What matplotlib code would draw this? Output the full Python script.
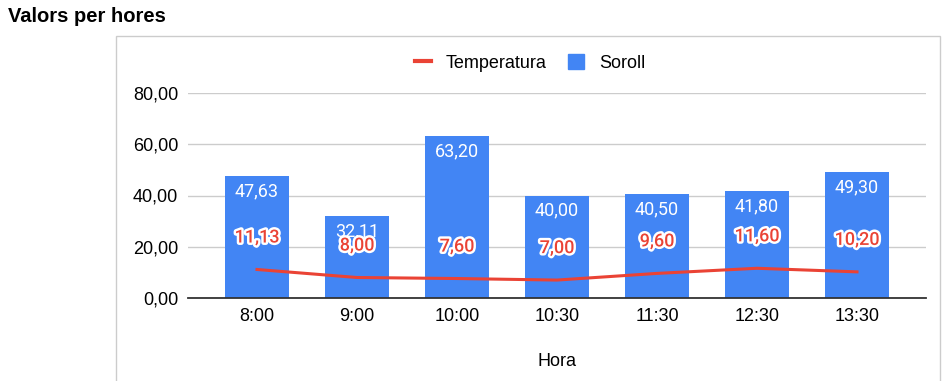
import matplotlib.pyplot as plt
import matplotlib.patheffects as pe
from matplotlib.patches import Rectangle
from matplotlib.lines import Line2D
import numpy as np

# --- Data ---
hores = ["8:00", "9:00", "10:00", "10:30", "11:30", "12:30", "13:30"]
soroll = [47.63, 32.11, 63.20, 40.00, 40.50, 41.80, 49.30]
temperatura = [11.13, 8.00, 7.60, 7.00, 9.60, 11.60, 10.20]
yticks = [0, 20, 40, 60, 80]

blue = "#4285f4"
red = "#ea4335"

def fmt(v):
    return f"{v:.2f}".replace(".", ",")

plt.rcParams["font.family"] = ["Liberation Sans", "DejaVu Sans"]

fig = plt.figure(figsize=(9.45, 3.81), dpi=100)
ax = fig.add_axes([188 / 945, 83 / 381, 738 / 945, 205 / 381])

x = np.arange(len(hores))
ax.bar(x, soroll, width=0.64, color=blue, zorder=2)
ax.plot(x, temperatura, color=red, lw=2.2, zorder=3)

# labels on bars
for xi, v in zip(x, soroll):
    ax.annotate(fmt(v), (xi, v), xytext=(0, -11), textcoords="offset points",
                ha="center", va="center", color="white", fontsize=13,
                family="Roboto", zorder=4)
for xi, v in zip(x, temperatura):
    ax.annotate(fmt(v), (xi, v), xytext=(0, 23), textcoords="offset points",
                ha="center", va="center", color=red, fontsize=13,
                family="Roboto", fontweight="medium", zorder=5,
                path_effects=[pe.withStroke(linewidth=3.5, foreground="white")])

ax.set_xlim(-0.69, len(hores) - 1 + 0.69)
ax.set_ylim(0, 80)
ax.set_xticks(x)
ax.set_xticklabels(hores, fontsize=13)
ax.set_yticks(yticks)
ax.set_yticklabels([fmt(t) for t in yticks], fontsize=13)
ax.tick_params(length=0, pad=7)
ax.tick_params(axis="x", pad=7)
ax.grid(axis="y", color="#cccccc", lw=1, zorder=0)
for s in ["top", "right", "left"]:
    ax.spines[s].set_visible(False)
ax.spines["bottom"].set_color("#333333")
ax.spines["bottom"].set_linewidth(1.3)
ax.spines["bottom"].set_zorder(6)
ax.set_xlabel("Hora", fontsize=13, labelpad=20)

# chart frame
fig.add_artist(Rectangle((116 / 945, -0.1), 824 / 945, 1.1 - 36 / 381,
                         transform=fig.transFigure, fill=False,
                         edgecolor="#cccccc", lw=1))

fig.text(8 / 945, 1 - 16 / 381, "Valors per hores", fontsize=14.5,
         fontweight="bold", ha="left", va="center")

handles = [Line2D([], [], color=red, lw=3),
           Rectangle((0, 0), 1, 1, color=blue)]
fig.legend(handles, ["Temperatura", "Soroll"], loc="center",
           bbox_to_anchor=(530 / 945, 1 - 63 / 381), ncol=2, frameon=False,
           fontsize=13, handlelength=0.9, handleheight=0.9, handletextpad=0.8,
           columnspacing=1.2)

plt.savefig("out.png", dpi=100)
